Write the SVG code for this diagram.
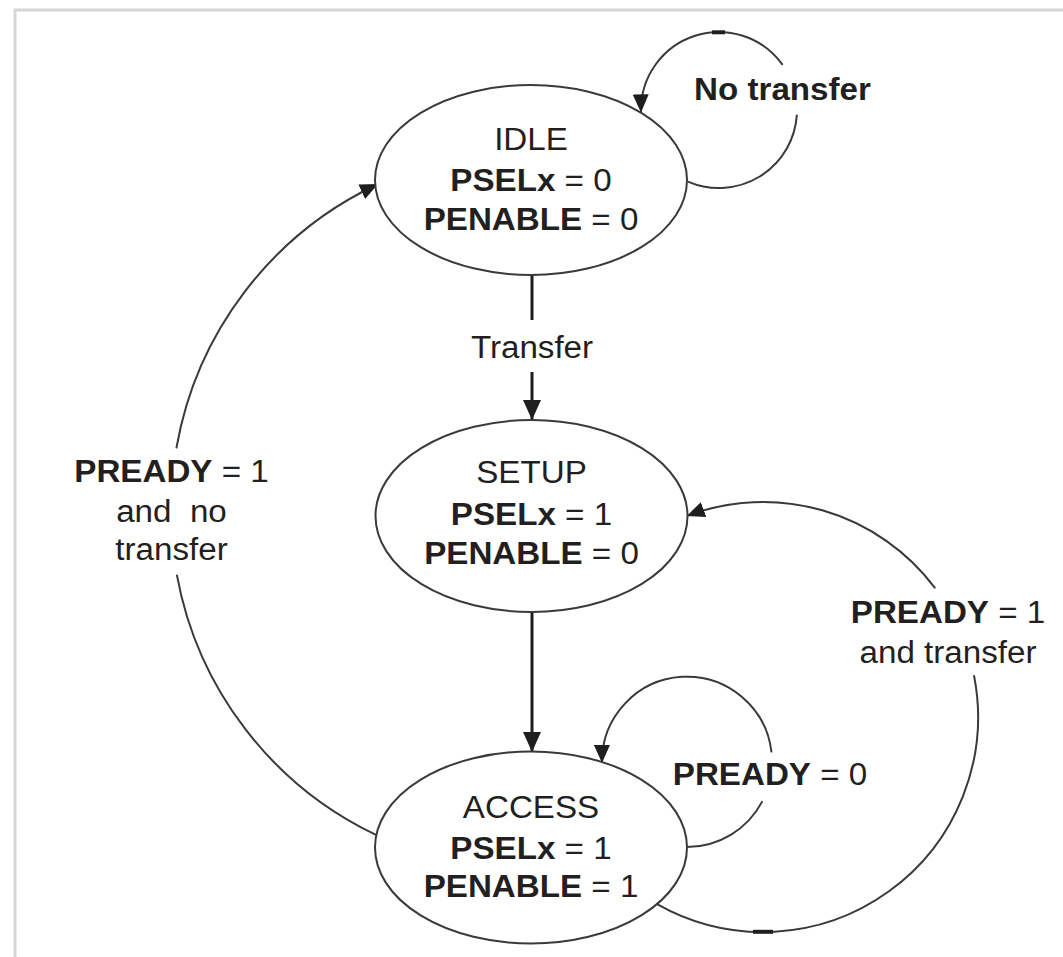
<svg xmlns="http://www.w3.org/2000/svg" width="1063" height="957" viewBox="0 0 1063 957">
<defs>
<style>
.bg{fill:#ffffff}
.frame{fill:none;stroke:#d6d6d6;stroke-width:3}
.node{fill:#ffffff;stroke:#3a3a3a;stroke-width:2}
.t{font-family:"Liberation Sans",Arial,sans-serif;font-size:31px;fill:#231f20;text-anchor:middle}
.b{font-weight:bold}
.arc{fill:none;stroke:#3a3a3a;stroke-width:2;stroke-linecap:round}
.vline{fill:none;stroke:#1e1e1e;stroke-width:3}
.tick{fill:none;stroke:#1e1e1e;stroke-width:4}
</style>
<marker id="arr" markerUnits="userSpaceOnUse" markerWidth="20" markerHeight="18" refX="19" refY="9" orient="auto">
<path d="M0,0 L20,9 L0,18 z" fill="#1e1e1e"/>
</marker>
<marker id="arrs" markerUnits="userSpaceOnUse" markerWidth="18" markerHeight="16" refX="17" refY="8" orient="auto">
<path d="M0,0 L18,8 L0,16 z" fill="#1e1e1e"/>
</marker>
</defs>
<rect class="bg" x="0" y="0" width="1063" height="957"/>
<path class="frame" d="M15,957 L15,10 L1063,10"/>

<g id="connectors">
<!-- IDLE -> SETUP -->
<line class="vline" x1="532" y1="275" x2="532" y2="320"/>
<line class="vline" x1="532" y1="372" x2="532" y2="419" marker-end="url(#arr)"/>
<!-- SETUP -> ACCESS -->
<line class="vline" x1="532" y1="612" x2="532" y2="751" marker-end="url(#arr)"/>
<!-- IDLE self loop -->
<path class="arc" d="M688.5,181.8 A78,78 0 0 0 796.8,115.4"/>
<path class="arc" d="M782.1,64.2 A78,78 0 0 0 641.0,111.4" marker-end="url(#arrs)"/>
<line class="tick" x1="712" y1="32.3" x2="725" y2="32.3"/>
<!-- ACCESS -> IDLE -->
<path class="arc" d="M375.5,834.7 A360,360 0 0 1 177,575.6"/>
<path class="arc" d="M176.5,447.5 A360,360 0 0 1 377.1,184.5" marker-end="url(#arrs)"/>
<!-- ACCESS -> SETUP -->
<path class="arc" d="M657.1,904.1 A215,215 0 0 0 974.1,676"/>
<path class="arc" d="M934.7,587.6 A215,215 0 0 0 687.7,515.6" marker-end="url(#arrs)"/>
<line class="tick" x1="753" y1="931.8" x2="773" y2="931.8"/>
<!-- ACCESS self loop -->
<path class="arc" d="M687,847 A85,85 0 0 0 762,801.9"/>
<path class="arc" d="M771.4,751.6 A85,85 0 0 0 602,762" marker-end="url(#arrs)"/>
<!-- labels -->
<g transform="translate(782.5,0) scale(1.07,1)">
<text class="t b" x="0" y="100">No transfer</text>
</g>
<g transform="translate(532,0) scale(1.07,1)">
<text class="t" x="0" y="358">Transfer</text>
</g>
<g transform="translate(171.5,0) scale(1.07,1)">
<text class="t" x="0" y="482"><tspan class="b">PREADY</tspan> = 1</text>
<text class="t" x="0" y="522" xml:space="preserve">and  no</text>
<text class="t" x="0" y="560">transfer</text>
</g>
<g transform="translate(948,0) scale(1.07,1)">
<text class="t" x="0" y="623"><tspan class="b">PREADY</tspan> = 1</text>
<text class="t" x="0" y="663">and transfer</text>
</g>
<g transform="translate(770,0) scale(1.07,1)">
<text class="t" x="0" y="785"><tspan class="b">PREADY</tspan> = 0</text>
</g>
</g>

<g id="idle">
<ellipse class="node" cx="531" cy="180" rx="156" ry="95"/>
<g transform="translate(531,0) scale(1.07,1)">
<text class="t" x="0" y="150">IDLE</text>
<text class="t" x="0" y="191"><tspan class="b">PSELx</tspan> = 0</text>
<text class="t" x="0" y="230"><tspan class="b">PENABLE</tspan> = 0</text>
</g>
</g>

<g id="setup">
<ellipse class="node" cx="531.5" cy="516" rx="156" ry="96"/>
<g transform="translate(531.5,0) scale(1.07,1)">
<text class="t" x="0" y="483">SETUP</text>
<text class="t" x="0" y="525"><tspan class="b">PSELx</tspan> = 1</text>
<text class="t" x="0" y="564"><tspan class="b">PENABLE</tspan> = 0</text>
</g>
</g>

<g id="access">
<ellipse class="node" cx="531" cy="847.5" rx="156" ry="96"/>
<g transform="translate(531,0) scale(1.07,1)">
<text class="t" x="0" y="818">ACCESS</text>
<text class="t" x="0" y="859"><tspan class="b">PSELx</tspan> = 1</text>
<text class="t" x="0" y="897"><tspan class="b">PENABLE</tspan> = 1</text>
</g>
</g>
</svg>
